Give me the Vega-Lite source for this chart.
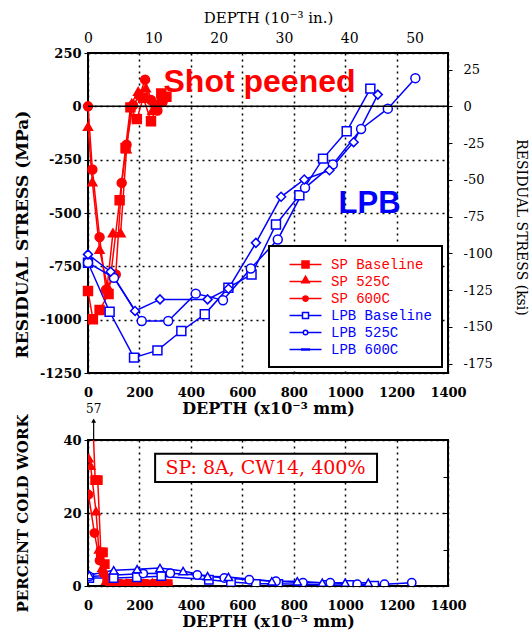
{
  "$schema": "https://vega.github.io/schema/vega-lite/v6.json",
  "background": "white",
  "padding": {"left": 12, "top": 9, "right": 2, "bottom": 2},
  "bounds": "flush",
  "spacing": 67,
  "datasets": {
    "stress": [
      {"series": "SP Baseline", "depth": 0, "stress": -866},
      {"series": "SP Baseline", "depth": 19, "stress": -998},
      {"series": "SP Baseline", "depth": 45, "stress": -955},
      {"series": "SP Baseline", "depth": 80, "stress": -880},
      {"series": "SP Baseline", "depth": 123, "stress": -440},
      {"series": "SP Baseline", "depth": 146, "stress": -195},
      {"series": "SP Baseline", "depth": 165, "stress": -5},
      {"series": "SP Baseline", "depth": 190, "stress": -60},
      {"series": "SP Baseline", "depth": 215, "stress": 40},
      {"series": "SP Baseline", "depth": 245, "stress": -70},
      {"series": "SP Baseline", "depth": 265, "stress": -10},
      {"series": "SP Baseline", "depth": 285, "stress": 60},
      {"series": "SP Baseline", "depth": 305, "stress": 45},
      {"series": "SP 525C", "depth": 0, "stress": -94},
      {"series": "SP 525C", "depth": 17, "stress": -354},
      {"series": "SP 525C", "depth": 45, "stress": -670},
      {"series": "SP 525C", "depth": 75, "stress": -842},
      {"series": "SP 525C", "depth": 97, "stress": -593},
      {"series": "SP 525C", "depth": 127, "stress": -593},
      {"series": "SP 525C", "depth": 150, "stress": -200},
      {"series": "SP 525C", "depth": 170, "stress": 15},
      {"series": "SP 525C", "depth": 195, "stress": 70},
      {"series": "SP 525C", "depth": 225, "stress": 86},
      {"series": "SP 525C", "depth": 250, "stress": -20},
      {"series": "SP 525C", "depth": 275, "stress": 25},
      {"series": "SP 600C", "depth": 0, "stress": 0},
      {"series": "SP 600C", "depth": 17, "stress": -296},
      {"series": "SP 600C", "depth": 45, "stress": -613},
      {"series": "SP 600C", "depth": 70, "stress": -860},
      {"series": "SP 600C", "depth": 108, "stress": -788},
      {"series": "SP 600C", "depth": 131, "stress": -359},
      {"series": "SP 600C", "depth": 150, "stress": -180},
      {"series": "SP 600C", "depth": 175, "stress": 5},
      {"series": "SP 600C", "depth": 200, "stress": 50},
      {"series": "SP 600C", "depth": 222, "stress": 125},
      {"series": "SP 600C", "depth": 245, "stress": 30},
      {"series": "SP 600C", "depth": 270, "stress": -20},
      {"series": "SP 600C", "depth": 290, "stress": 20},
      {"series": "LPB Baseline", "depth": 0, "stress": -733},
      {"series": "LPB Baseline", "depth": 84, "stress": -963},
      {"series": "LPB Baseline", "depth": 179, "stress": -1178},
      {"series": "LPB Baseline", "depth": 270, "stress": -1144},
      {"series": "LPB Baseline", "depth": 363, "stress": -1053},
      {"series": "LPB Baseline", "depth": 454, "stress": -975},
      {"series": "LPB Baseline", "depth": 546, "stress": -850},
      {"series": "LPB Baseline", "depth": 636, "stress": -788},
      {"series": "LPB Baseline", "depth": 731, "stress": -554},
      {"series": "LPB Baseline", "depth": 822, "stress": -417},
      {"series": "LPB Baseline", "depth": 914, "stress": -245},
      {"series": "LPB Baseline", "depth": 1006, "stress": -117},
      {"series": "LPB Baseline", "depth": 1098, "stress": 83},
      {"series": "LPB 525C", "depth": 0, "stress": -733},
      {"series": "LPB 525C", "depth": 101, "stress": -804},
      {"series": "LPB 525C", "depth": 209, "stress": -1006},
      {"series": "LPB 525C", "depth": 312, "stress": -1006},
      {"series": "LPB 525C", "depth": 419, "stress": -878},
      {"series": "LPB 525C", "depth": 525, "stress": -909},
      {"series": "LPB 525C", "depth": 633, "stress": -760},
      {"series": "LPB 525C", "depth": 738, "stress": -624},
      {"series": "LPB 525C", "depth": 844, "stress": -382},
      {"series": "LPB 525C", "depth": 952, "stress": -273},
      {"series": "LPB 525C", "depth": 1062, "stress": -106},
      {"series": "LPB 525C", "depth": 1166, "stress": -11},
      {"series": "LPB 525C", "depth": 1273, "stress": 132},
      {"series": "LPB 600C", "depth": 0, "stress": -694},
      {"series": "LPB 600C", "depth": 88, "stress": -775},
      {"series": "LPB 600C", "depth": 183, "stress": -959},
      {"series": "LPB 600C", "depth": 280, "stress": -905},
      {"series": "LPB 600C", "depth": 465, "stress": -905},
      {"series": "LPB 600C", "depth": 546, "stress": -855},
      {"series": "LPB 600C", "depth": 653, "stress": -640},
      {"series": "LPB 600C", "depth": 751, "stress": -424},
      {"series": "LPB 600C", "depth": 841, "stress": -343},
      {"series": "LPB 600C", "depth": 939, "stress": -300},
      {"series": "LPB 600C", "depth": 1033, "stress": -168},
      {"series": "LPB 600C", "depth": 1127, "stress": 55}
    ],
    "coldwork": [
      {"series": "SP Baseline", "depth": 12, "cw": 57},
      {"series": "SP Baseline", "depth": 28, "cw": 29},
      {"series": "SP Baseline", "depth": 38, "cw": 29},
      {"series": "SP Baseline", "depth": 50, "cw": 9.2},
      {"series": "SP Baseline", "depth": 58, "cw": 9.2},
      {"series": "SP Baseline", "depth": 65, "cw": 6},
      {"series": "SP Baseline", "depth": 75, "cw": 2},
      {"series": "SP Baseline", "depth": 90, "cw": 0.5},
      {"series": "SP Baseline", "depth": 115, "cw": 0.6},
      {"series": "SP Baseline", "depth": 140, "cw": 0.4},
      {"series": "SP Baseline", "depth": 165, "cw": 0.6},
      {"series": "SP Baseline", "depth": 190, "cw": 0.5},
      {"series": "SP Baseline", "depth": 215, "cw": 0.6},
      {"series": "SP Baseline", "depth": 240, "cw": 0.4},
      {"series": "SP Baseline", "depth": 265, "cw": 0.6},
      {"series": "SP Baseline", "depth": 290, "cw": 0.5},
      {"series": "SP Baseline", "depth": 310, "cw": 0.5},
      {"series": "SP 525C", "depth": 3, "cw": 35},
      {"series": "SP 525C", "depth": 10, "cw": 33},
      {"series": "SP 525C", "depth": 31, "cw": 20.5},
      {"series": "SP 525C", "depth": 42, "cw": 10},
      {"series": "SP 525C", "depth": 55, "cw": 5},
      {"series": "SP 525C", "depth": 70, "cw": 1.5},
      {"series": "SP 525C", "depth": 100, "cw": 0.7},
      {"series": "SP 525C", "depth": 150, "cw": 0.8},
      {"series": "SP 525C", "depth": 200, "cw": 0.6},
      {"series": "SP 525C", "depth": 250, "cw": 0.9},
      {"series": "SP 525C", "depth": 290, "cw": 0.6},
      {"series": "SP 600C", "depth": 2, "cw": 25},
      {"series": "SP 600C", "depth": 25, "cw": 14.5},
      {"series": "SP 600C", "depth": 45, "cw": 7},
      {"series": "SP 600C", "depth": 60, "cw": 3.5},
      {"series": "SP 600C", "depth": 80, "cw": 1},
      {"series": "SP 600C", "depth": 120, "cw": 0.5},
      {"series": "SP 600C", "depth": 170, "cw": 0.5},
      {"series": "SP 600C", "depth": 220, "cw": 0.6},
      {"series": "SP 600C", "depth": 270, "cw": 0.5},
      {"series": "SP 600C", "depth": 310, "cw": 0.4},
      {"series": "LPB Baseline", "depth": 5, "cw": 2.2},
      {"series": "LPB Baseline", "depth": 100, "cw": 2.2},
      {"series": "LPB Baseline", "depth": 190, "cw": 2.4},
      {"series": "LPB Baseline", "depth": 285, "cw": 2.7},
      {"series": "LPB Baseline", "depth": 470, "cw": 1.7},
      {"series": "LPB Baseline", "depth": 556, "cw": 1.1},
      {"series": "LPB Baseline", "depth": 653, "cw": 0.6},
      {"series": "LPB Baseline", "depth": 740, "cw": 0.6},
      {"series": "LPB Baseline", "depth": 925, "cw": 0.3},
      {"series": "LPB Baseline", "depth": 1016, "cw": 0.3},
      {"series": "LPB Baseline", "depth": 1113, "cw": 0.1},
      {"series": "LPB 525C", "depth": 5, "cw": 2.6},
      {"series": "LPB 525C", "depth": 215, "cw": 3.4},
      {"series": "LPB 525C", "depth": 320, "cw": 3.5},
      {"series": "LPB 525C", "depth": 425, "cw": 3.0},
      {"series": "LPB 525C", "depth": 530, "cw": 2.2},
      {"series": "LPB 525C", "depth": 627, "cw": 1.7},
      {"series": "LPB 525C", "depth": 731, "cw": 1.3},
      {"series": "LPB 525C", "depth": 836, "cw": 0.9},
      {"series": "LPB 525C", "depth": 942, "cw": 0.9},
      {"series": "LPB 525C", "depth": 1047, "cw": 0.5},
      {"series": "LPB 525C", "depth": 1153, "cw": 0.5},
      {"series": "LPB 525C", "depth": 1259, "cw": 0.9},
      {"series": "LPB 600C", "depth": 5, "cw": 3.0},
      {"series": "LPB 600C", "depth": 100, "cw": 4.3},
      {"series": "LPB 600C", "depth": 191, "cw": 4.6},
      {"series": "LPB 600C", "depth": 280, "cw": 4.9},
      {"series": "LPB 600C", "depth": 370, "cw": 4.1},
      {"series": "LPB 600C", "depth": 465, "cw": 2.7},
      {"series": "LPB 600C", "depth": 546, "cw": 2.5},
      {"series": "LPB 600C", "depth": 715, "cw": 1.3},
      {"series": "LPB 600C", "depth": 814, "cw": 1.3},
      {"series": "LPB 600C", "depth": 911, "cw": 0.9},
      {"series": "LPB 600C", "depth": 1000, "cw": 0.9},
      {"series": "LPB 600C", "depth": 1090, "cw": 0.9}
    ]
  },
  "vconcat": [
    {
      "width": 360,
      "height": 320,
      "layer": [
        {
          "data": {"name": "stress"},
          "mark": {"type": "line", "strokeWidth": 1.5, "clip": true},
          "encoding": {
            "x": {"field": "depth", "type": "quantitative", "scale": {"domain": [0, 1400], "nice": false},
              "axis": {"values": [0, 200, 400, 600, 800, 1000, 1200, 1400], "labelExpr": "'' + datum.value", "grid": true, "ticks": false, "labelPadding": 13, "titlePadding": 1, "title": "DEPTH  (x10⁻³ mm)"}},
            "y": {"field": "stress", "type": "quantitative", "scale": {"domain": [-1250, 250], "nice": false},
              "axis": {"values": [-1250, -1000, -750, -500, -250, 0, 250], "labelExpr": "'' + datum.value", "grid": true, "tickSize": 4, "labelPadding": 3, "titlePadding": 8, "titleFontSize": 17, "titleY": 181, "title": "RESIDUAL STRESS (MPa)"}},
            "color": {"field": "series", "type": "nominal",
              "scale": {"domain": ["SP Baseline", "SP 525C", "SP 600C", "LPB Baseline", "LPB 525C", "LPB 600C"], "range": ["#ff0000", "#ff0000", "#ff0000", "#0000ff", "#0000ff", "#0000ff"]},
              "legend": {"title": null, "orient": "bottom-right", "offset": 6, "fillColor": "white", "strokeColor": "black", "padding": 10, "symbolSize": 225, "symbolStrokeWidth": 1.5, "symbolOffset": 18, "labelOffset": 17, "labelFont": "Liberation Mono", "labelFontSize": 14, "labelFontWeight": "normal", "labelLimit": 200, "rowPadding": 1,
                "encode": {
                  "legend": {"update": {"strokeWidth": {"value": 2}}},
                  "symbols": {"update": {
                    "shape": {"signal": "datum.value === 'SP Baseline' ? 'M-2.13,0H2.13M-0.47,-0.47H0.47V0.47H-0.47Z' : datum.value === 'SP 525C' ? 'M-2.13,0H2.13M0,-0.7L0.5,0.15H-0.5Z' : datum.value === 'SP 600C' ? 'M-2.13,0H2.13M-0.35,0A0.35,0.35,0,1,0,0.35,0A0.35,0.35,0,1,0,-0.35,0Z' : datum.value === 'LPB Baseline' ? 'M-2.13,0H-0.4M0.4,0H2.13M-0.4,-0.4H0.4V0.4H-0.4Z' : datum.value === 'LPB 525C' ? 'M-2.13,0H-0.3M0.3,0H2.13M-0.3,0A0.3,0.3,0,1,0,0.3,0A0.3,0.3,0,1,0,-0.3,0Z' : 'M-2.13,0H2.13M-0.5,-0.08H0.5V0.08H-0.5Z'"},
                    "fill": {"signal": "indexof(datum.value, 'LPB') === 0 ? (datum.value === 'LPB 600C' ? '#0000ff' : '#ffffff') : '#ff0000'"},
                    "stroke": {"signal": "indexof(datum.value, 'LPB') === 0 ? '#0000ff' : '#ff0000'"},
                    "strokeWidth": {"value": 1.5},
                    "opacity": {"value": 1}
                  }},
                  "labels": {"update": {"fill": {"signal": "indexof(datum.value, 'LPB') === 0 ? '#0000ff' : '#ff0000'"}}}
                }}}
          }
        },
        {
          "data": {"name": "stress"},
          "mark": {"type": "point", "filled": true, "size": 80, "strokeWidth": 1.5, "opacity": 1},
          "encoding": {
            "x": {"field": "depth", "type": "quantitative", "scale": {"domain": [0, 1400], "nice": false}, "axis": null},
            "y": {"field": "stress", "type": "quantitative", "scale": {"domain": [-1250, 250], "nice": false}, "axis": null},
            "shape": {"field": "series", "type": "nominal",
              "scale": {"domain": ["LPB Baseline", "LPB 525C", "LPB 600C", "SP Baseline", "SP 525C", "SP 600C"], "range": ["square", "circle", "diamond", "square", "triangle-up", "circle"]},
              "legend": null},
            "fill": {"field": "series", "type": "nominal",
              "scale": {"domain": ["LPB Baseline", "LPB 525C", "LPB 600C", "SP Baseline", "SP 525C", "SP 600C"], "range": ["#ffffff", "#ffffff", "#ffffff", "#ff0000", "#ff0000", "#ff0000"]},
              "legend": null},
            "stroke": {"field": "series", "type": "nominal",
              "scale": {"domain": ["LPB Baseline", "LPB 525C", "LPB 600C", "SP Baseline", "SP 525C", "SP 600C"], "range": ["#0000ff", "#0000ff", "#0000ff", "#ff0000", "#ff0000", "#ff0000"]},
              "legend": null}
          }
        },
        {
          "data": {"values": [{"label": "Shot peened", "depth": 667, "stress": 65}]},
          "mark": {"type": "text", "font": "Liberation Sans", "fontWeight": "bold", "fontSize": 32, "color": "#ff0000", "align": "center", "baseline": "alphabetic"},
          "encoding": {
            "x": {"field": "depth", "type": "quantitative", "scale": {"domain": [0, 1400], "nice": false}, "axis": null},
            "y": {"field": "stress", "type": "quantitative", "scale": {"domain": [-1250, 250], "nice": false}, "axis": null},
            "text": {"field": "label"}
          }
        },
        {
          "data": {"values": [{"label": "LPB", "depth": 1095, "stress": -501}]},
          "mark": {"type": "text", "font": "Liberation Sans", "fontWeight": "bold", "fontSize": 31, "color": "#0000ff", "align": "center", "baseline": "alphabetic"},
          "encoding": {
            "x": {"field": "depth", "type": "quantitative", "scale": {"domain": [0, 1400], "nice": false}, "axis": null},
            "y": {"field": "stress", "type": "quantitative", "scale": {"domain": [-1250, 250], "nice": false}, "axis": null},
            "text": {"field": "label"}
          }
        },
        {
          "data": {"values": [{}]},
          "mark": {"type": "rule", "stroke": "black", "strokeWidth": 1.5},
          "encoding": {
            "y": {"datum": 0, "type": "quantitative", "scale": {"domain": [-181.29, 36.26], "nice": false},
              "axis": {"orient": "right", "values": [-175, -150, -125, -100, -75, -50, -25, 0, 25], "labelExpr": "'' + datum.value", "grid": false, "tickSize": 4, "labelPadding": 11, "labelFontWeight": "normal", "labelFontSize": 13, "titleFontWeight": "normal", "titleFontSize": 14, "titlePadding": 21, "titleY": 174, "title": "RESIDUAL STRESS (ksi)"}}
          }
        },
        {
          "data": {"values": [{}]},
          "mark": {"type": "rule", "strokeOpacity": 0},
          "encoding": {
            "x": {"datum": 0, "type": "quantitative", "scale": {"domain": [0, 55.118], "nice": false},
              "axis": {"orient": "top", "values": [0, 10, 20, 30, 40, 50], "ticks": false, "grid": false, "labelPadding": 8, "labelFontWeight": "normal", "labelFontSize": 14, "titleFontWeight": "normal", "titleFontSize": 15, "titlePadding": 6, "title": "DEPTH (10⁻³ in.)"}}
          }
        }
      ],
      "resolve": {"scale": {"x": "independent", "y": "independent"}}
    },
    {
      "width": 360,
      "height": 146,
      "layer": [
        {
          "data": {"name": "coldwork"},
          "layer": [
            {
              "mark": {"type": "line", "strokeWidth": 1.5, "clip": true},
              "encoding": {
                "x": {"field": "depth", "type": "quantitative", "scale": {"domain": [0, 1400], "nice": false},
                  "axis": {"values": [0, 200, 400, 600, 800, 1000, 1200, 1400], "labelExpr": "'' + datum.value", "grid": true, "ticks": false, "labelPadding": 13, "titlePadding": 1, "title": "DEPTH  (x10⁻³ mm)"}},
                "y": {"field": "cw", "type": "quantitative", "scale": {"domain": [0, 40], "nice": false},
                  "axis": {"values": [0, 20, 40], "grid": true, "tickSize": 4, "labelPadding": 3, "titlePadding": 32, "titleFontSize": 15, "title": "PERCENT COLD WORK"}},
                "color": {"field": "series", "type": "nominal",
                  "scale": {"domain": ["SP Baseline", "SP 525C", "SP 600C", "LPB Baseline", "LPB 525C", "LPB 600C"], "range": ["#ff0000", "#ff0000", "#ff0000", "#0000ff", "#0000ff", "#0000ff"]},
                  "legend": null}
              }
            },
            {
              "mark": {"type": "point", "filled": true, "size": 70, "strokeWidth": 1.5, "opacity": 1, "clip": true},
              "encoding": {
                "x": {"field": "depth", "type": "quantitative"},
                "y": {"field": "cw", "type": "quantitative"},
                "shape": {"field": "series", "type": "nominal",
                  "scale": {"domain": ["SP Baseline", "SP 525C", "SP 600C", "LPB Baseline", "LPB 525C", "LPB 600C"], "range": ["square", "triangle-up", "circle", "square", "circle", "triangle-up"]},
                  "legend": null},
                "fill": {"field": "series", "type": "nominal",
                  "scale": {"domain": ["SP Baseline", "SP 525C", "SP 600C", "LPB Baseline", "LPB 525C", "LPB 600C"], "range": ["#ff0000", "#ff0000", "#ff0000", "#ffffff", "#ffffff", "#ffffff"]},
                  "legend": null},
                "stroke": {"field": "series", "type": "nominal",
                  "scale": {"domain": ["SP Baseline", "SP 525C", "SP 600C", "LPB Baseline", "LPB 525C", "LPB 600C"], "range": ["#ff0000", "#ff0000", "#ff0000", "#0000ff", "#0000ff", "#0000ff"]},
                  "legend": null}
              }
            },
            {
              "data": {"values": [{"x1": 261, "x2": 1124, "y1": 28.5, "y2": 36.2}]},
              "mark": {"type": "rect", "fill": "white", "stroke": "black", "strokeWidth": 2},
              "encoding": {
                "x": {"field": "x1", "type": "quantitative"},
                "x2": {"field": "x2"},
                "y": {"field": "y1", "type": "quantitative"},
                "y2": {"field": "y2"}
              }
            },
            {
              "data": {"values": [{"label": "SP:  8A,  CW14,  400%", "depth": 690, "cw": 30.6}]},
              "mark": {"type": "text", "font": "DejaVu Serif", "fontSize": 19, "color": "#ff0000", "align": "center", "baseline": "alphabetic"},
              "encoding": {
                "x": {"field": "depth", "type": "quantitative"},
                "y": {"field": "cw", "type": "quantitative"},
                "text": {"field": "label"}
              }
            },
            {
              "data": {"values": [{"depth": 22, "lo": 40, "hi": 45}]},
              "mark": {"type": "rule", "color": "black", "strokeWidth": 1.2},
              "encoding": {
                "x": {"field": "depth", "type": "quantitative"},
                "y": {"field": "lo", "type": "quantitative"},
                "y2": {"field": "hi"}
              }
            },
            {
              "data": {"values": [{"depth": 22, "cw": 45.3}]},
              "mark": {"type": "point", "shape": "triangle-up", "filled": true, "color": "black", "size": 25, "opacity": 1},
              "encoding": {
                "x": {"field": "depth", "type": "quantitative"},
                "y": {"field": "cw", "type": "quantitative"}
              }
            },
            {
              "data": {"values": [{"label": "57", "depth": 22, "cw": 47.8}]},
              "mark": {"type": "text", "font": "DejaVu Serif", "fontSize": 12, "color": "black", "align": "center", "baseline": "bottom", "dy": 4},
              "encoding": {
                "x": {"field": "depth", "type": "quantitative"},
                "y": {"field": "cw", "type": "quantitative"},
                "text": {"field": "label"}
              }
            }
          ]
        },
        {
          "data": {"values": [{}]},
          "mark": {"type": "rule", "strokeOpacity": 0},
          "encoding": {
            "y": {"datum": 0, "type": "quantitative", "scale": {"domain": [0, 40], "nice": false},
              "axis": {"orient": "right", "values": [0, 10, 20, 30, 40], "labels": false, "grid": false, "tickSize": -5, "title": null}}
          }
        }
      ],
      "resolve": {"scale": {"y": "independent"}}
    }
  ],
  "resolve": {
    "scale": {"shape": "independent", "fill": "independent", "stroke": "independent", "color": "independent"},
    "legend": {"shape": "independent", "fill": "independent", "stroke": "independent", "color": "independent"}
  },
  "config": {
    "view": {"stroke": "black", "strokeWidth": 2},
    "axis": {
      "domain": false,
      "gridColor": "black",
      "gridDash": [2, 4],
      "gridWidth": 1.5,
      "gridOpacity": 1,
      "tickColor": "black",
      "labelColor": "black",
      "titleColor": "black",
      "labelFont": "DejaVu Serif",
      "labelFontWeight": "bold",
      "labelFontSize": 13,
      "labelFlush": false,
      "labelOverlap": false,
      "titleFont": "DejaVu Serif",
      "titleFontWeight": "bold",
      "titleFontSize": 16
    }
  }
}
